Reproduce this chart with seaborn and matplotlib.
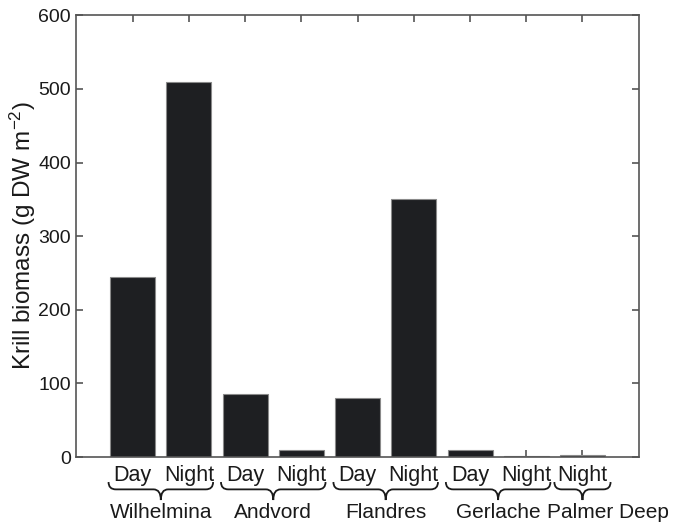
import numpy as np
import pandas as pd
import matplotlib
matplotlib.use('Agg')
import matplotlib.pyplot as plt
from matplotlib.path import Path
from matplotlib.patches import PathPatch
from matplotlib.transforms import blended_transform_factory
import seaborn as sns

'''
data read off the figure
'''
sites = ['Wilhelmina', 'Wilhelmina', 'Andvord', 'Andvord', 'Flandres',
         'Flandres', 'Gerlache', 'Gerlache', 'Palmer Deep']
periods = ['Day', 'Night', 'Day', 'Night', 'Day', 'Night', 'Day', 'Night', 'Night']
biomass = [245, 510, 86, 10, 80, 350, 10, 2, 3]
y_ticks = [0, 100, 200, 300, 400, 500, 600]

df = pd.DataFrame({'site': sites, 'period': periods, 'biomass': biomass})
df['bar'] = np.arange(len(df))

sns.set_style('ticks')
plt.rcParams['font.family'] = ['Liberation Sans', 'DejaVu Sans']
plt.rcParams['mathtext.default'] = 'regular'

fig = plt.figure(figsize=(6.74, 5.22), dpi=100)
ax = fig.add_axes([0.1135, 0.1245, 0.8341, 0.8462])

sns.barplot(
    x='bar',
    y='biomass',
    data=df,
    color='#1e1f22',
    saturation=1,
    width=0.8,
    edgecolor='#8a8a8a',
    linewidth=0.8,
    ax=ax
)

ax.set_xlim(-1, 9)
ax.set_ylim(0, 600)
ax.set_yticks(y_ticks)
ax.set_xticks(df['bar'])
ax.set_xticklabels(df['period'])
ax.set_xlabel('')
ax.set_ylabel('Krill biomass (g DW m$^{-2}$)', fontsize=17.5, labelpad=0,
              color='#1a1a1a')

for side in ['top', 'right', 'left', 'bottom']:
    ax.spines[side].set_visible(True)
    ax.spines[side].set_color('#555555')
    ax.spines[side].set_linewidth(1.2)
ax.tick_params(direction='in', top=True, right=True, length=5,
               width=1.2, color='#555555', labelsize=14, labelcolor='#1a1a1a')
ax.tick_params(axis='x', pad=6, labelsize=15.5)
ax.tick_params(axis='y', pad=4)

'''
braces and site names under the tick labels
'''
trans = blended_transform_factory(ax.transData, fig.transFigure)
y_top, y_mid, y_bot = 0.0766, 0.0625, 0.0421
groups = df.groupby('site', sort=False)['bar'].agg(['min', 'max'])
label_shift = {'Palmer Deep': 0.45}
for site, row in groups.iterrows():
    pad = 0.5 if row['min'] == row['max'] else 0.43
    xl, xr = row['min'] - pad, row['max'] + pad
    xm = (xl + xr) / 2
    dx = 0.13
    verts = [
        (xl, y_top), (xl, y_mid), (xl + dx, y_mid),
        (xm - dx, y_mid),
        (xm, y_mid), (xm, y_bot),
        (xm, y_mid), (xm + dx, y_mid),
        (xr - dx, y_mid),
        (xr, y_mid), (xr, y_top),
    ]
    codes = [Path.MOVETO, Path.CURVE3, Path.CURVE3,
             Path.LINETO,
             Path.CURVE3, Path.CURVE3,
             Path.CURVE3, Path.CURVE3,
             Path.LINETO,
             Path.CURVE3, Path.CURVE3]
    ax.add_patch(PathPatch(Path(verts, codes), transform=trans, fill=False,
                           edgecolor='#1a1a1a', linewidth=1.3, clip_on=False))
    ax.text(xm + label_shift.get(site, 0), 0.019, site, transform=trans,
            ha='center', va='center', fontsize=15, color='#1a1a1a')

plt.savefig('out.png', dpi=100)
plt.close()
